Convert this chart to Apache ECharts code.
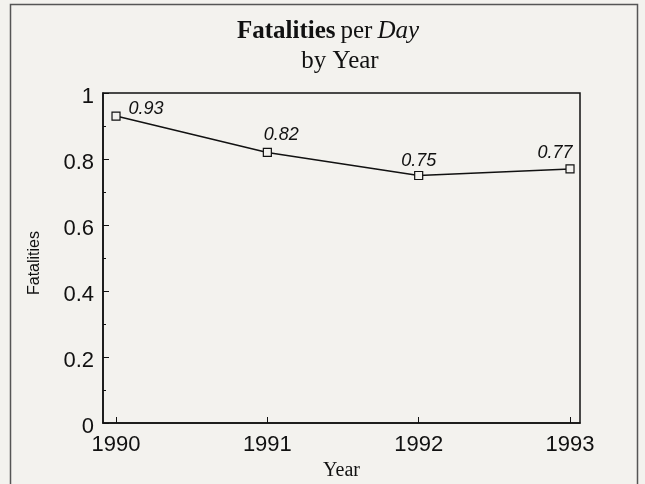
<!DOCTYPE html>
<html>
<head>
<meta charset="utf-8">
<script src="https://cdn.jsdelivr.net/npm/echarts@6/dist/echarts.min.js"></script>
<style>
html,body{margin:0;padding:0;background:#f3f2ee;}
#c{width:645px;height:484px;}
</style>
</head>
<body>
<div id="c"></div>
<script>
var years = [1990, 1991, 1992, 1993];
var fatalities = [0.93, 0.82, 0.75, 0.77];
var yTicks = [0, 0.2, 0.4, 0.6, 0.8, 1];

var labelOffsets = [[30, 12], [14, 2], [0, 5], [-15, 4]];

var chart = echarts.init(document.getElementById('c'), null, {renderer: 'canvas'});
var data = years.map(function (y, i) {
  return {
    value: [y, fatalities[i]],
    label: {offset: labelOffsets[i]}
  };
});
var serif = 'Liberation Serif';
chart.setOption({
  backgroundColor: '#f3f2ee',
  animation: false,
  title: [{
    text: '{b|Fatalities} {n|per} {i|Day}',
    left: 323,
    textAlign: 'center',
    top: 14,
    textStyle: {
      fontWeight: 'normal',
      rich: {
        b: {fontFamily: serif, fontWeight: 'bold', fontSize: 25, color: '#111'},
        n: {fontFamily: serif, fontWeight: 'normal', fontSize: 25, color: '#111'},
        i: {fontFamily: serif, fontWeight: 'normal', fontStyle: 'italic', fontSize: 25, color: '#111'}
      }
    }
  }, {
    text: 'by Year',
    left: 335,
    textAlign: 'center',
    top: 44,
    textStyle: {fontFamily: serif, fontWeight: 'normal', fontSize: 25, color: '#111'}
  }],
  graphic: [{
    type: 'rect',
    shape: {x: 10.5, y: 4.5, width: 627, height: 490},
    style: {fill: 'none', stroke: '#555', lineWidth: 1.5},
    silent: true
  }],
  grid: {
    left: 103, top: 93, right: 65, bottom: 61,
    outerBoundsMode: 'none',
    containLabel: false,
    show: true, borderColor: '#111', borderWidth: 1.5, backgroundColor: 'transparent'
  },
  xAxis: {
    type: 'value',
    min: 1989.914,
    max: 1993.066,
    name: 'Year',
    nameLocation: 'middle',
    nameGap: 37,
    nameTextStyle: {fontFamily: serif, fontSize: 20, color: '#111'},
    axisLine: {show: true, onZero: false, lineStyle: {color: '#111', width: 1.5}},
    axisTick: {show: true, inside: true, length: 6, customValues: years, lineStyle: {color: '#111'}},
    axisLabel: {
      customValues: years,
      fontFamily: 'Liberation Sans', fontSize: 22, color: '#111', margin: 11,
      formatter: function (v) { return String(Math.round(v)); }
    },
    splitLine: {show: false}
  },
  yAxis: {
    type: 'value',
    min: 0,
    max: 1,
    interval: 0.2,
    name: 'Fatalities',
    nameLocation: 'middle',
    nameGap: 60,
    nameTextStyle: {fontFamily: 'Liberation Sans', fontSize: 16, color: '#111', padding: [0, 10, 0, 0]},
    axisLine: {show: true, onZero: false, lineStyle: {color: '#111', width: 1.5}},
    axisTick: {show: true, inside: true, length: 6, lineStyle: {color: '#111'}},
    minorTick: {show: true, splitNumber: 2, length: 3, lineStyle: {color: '#111'}},
    axisLabel: {
      fontFamily: 'Liberation Sans', fontSize: 22, color: '#111', margin: 9,
      formatter: function (v) {
        var s = yTicks.find(function (t) { return Math.abs(t - v) < 1e-9; });
        return s === undefined ? '' : '{t|' + s + '}';
      },
      rich: {
        t: {fontFamily: 'Liberation Sans', fontSize: 22, color: '#111', padding: [8, 0, 0, 0]}
      }
    },
    splitLine: {show: false}
  },
  series: [{
    type: 'line',
    data: data,
    symbol: 'rect',
    symbolSize: 8,
    itemStyle: {color: '#f3f2ee', borderColor: '#111', borderWidth: 1.2},
    lineStyle: {color: '#111', width: 1.5},
    label: {
      show: true,
      position: 'top',
      distance: 6,
      fontFamily: 'Liberation Sans',
      fontStyle: 'italic',
      fontSize: 18,
      color: '#111',
      formatter: function (p) { return p.value[1].toFixed(2); }
    }
  }]
});
</script>
</body>
</html>
